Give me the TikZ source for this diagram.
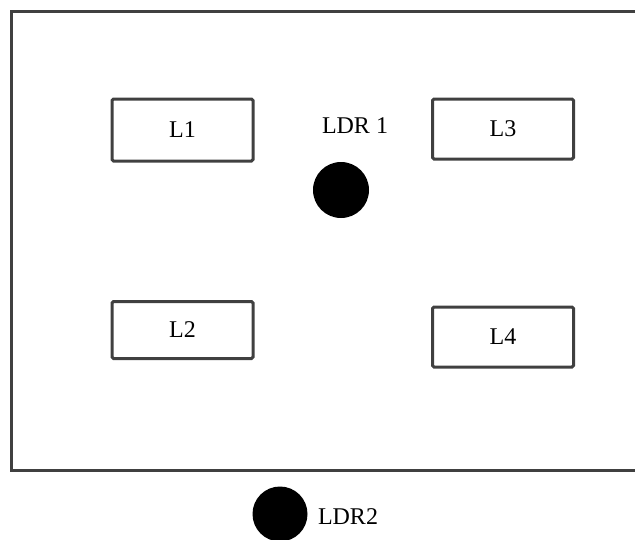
\documentclass[tikz,border=0pt]{standalone}
\usepackage{fontspec}
\setmainfont{Liberation Serif}
\begin{document}
\begin{tikzpicture}[x=1pt,y=-1pt,
  lamp/.style={draw=black!75,line width=3pt,rounded corners=1.5pt,minimum width=141pt,minimum height=#1,inner sep=0pt,font=\fontsize{24}{28}\selectfont},
  sensor/.style={circle,fill=black,inner sep=0pt,minimum size=#1},
  lbl/.style={inner sep=0pt,font=\fontsize{24}{28}\selectfont},
  wall/.style={draw=black!75,line width=3pt}]
\useasboundingbox (0,0) rectangle (635,539);
\clip (0,0) rectangle (635,539);
\coordinate (tr) at (640,11);
\coordinate (tl) at (11,11);
\coordinate (bl) at (11,470);
\coordinate (br) at (640,470);
\draw[wall] (tr) -- (tl) -- (bl) -- (br);
\node[lamp=62pt] (L1) at (182.5,130) {L1};
\node[lamp=60pt] (L3) at (503,129) {L3};
\node[lamp=57pt] (L2) at (182.5,330) {L2};
\node[lamp=60pt] (L4) at (503,337) {L4};
\node[sensor=56pt] (S1) at (341,190) {};
\node[lbl] (T1) at (355,126) {LDR 1};
\node[sensor=55pt] (S2) at (280,514) {};
\node[lbl] (T2) at (348,517) {LDR2};
\end{tikzpicture}
\end{document}
